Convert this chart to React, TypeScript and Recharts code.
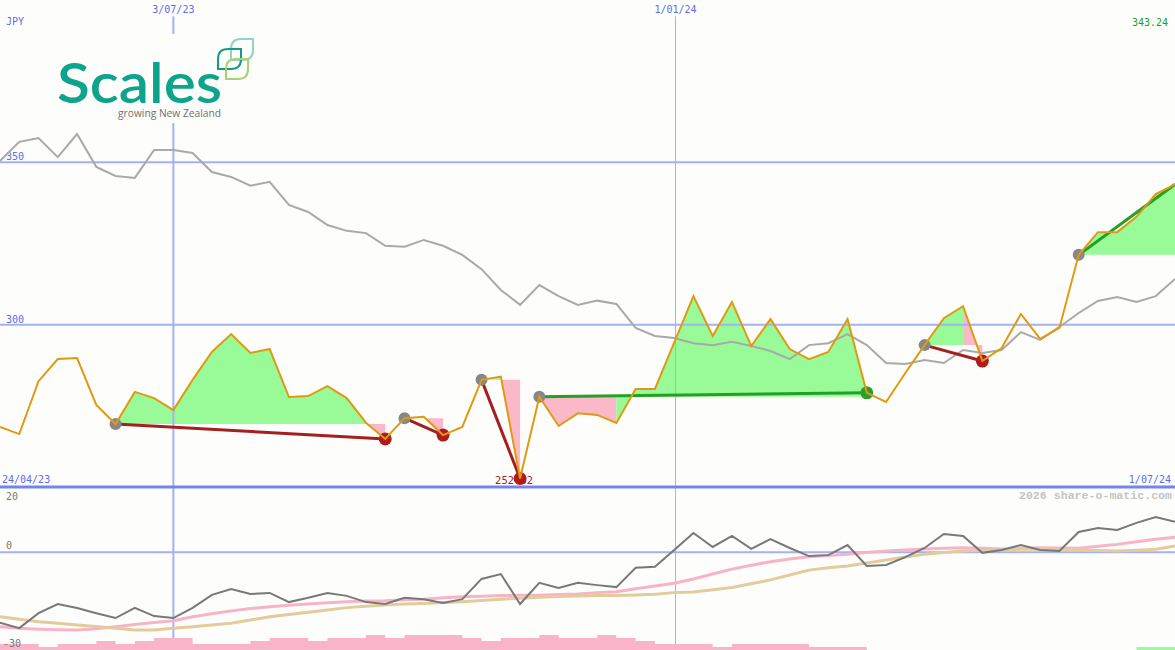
import React from 'react';
import { ComposedChart, Line, Area, XAxis, YAxis, ReferenceLine, ReferenceDot } from 'recharts';

const WIDTH = 1175;
const HEIGHT = 650;
const BG = '#fdfefb';
const BLUE = '#5a6cf2';
const GRID = '#a4b1f3';
const HEAVY = '#7484ee';
const MONO = "'DejaVu Sans Mono', monospace";

// weekly observations (index 0 = first week shown)
const priceJPY = [
  268.5, 266.3, 282.6, 289.4, 289.7, 275.3, 269.4, 279.3, 277.4, 273.7,
  283.0, 291.6, 297.1, 291.3, 292.5, 277.7, 278.0, 281.1, 277.4, 269.8,
  264.8, 271.2, 271.6, 266.0, 268.5, 283.0, 284.0, 252.62, 277.8, 268.8,
  272.7, 272.2, 269.7, 280.2, 280.2, 294.5, 308.8, 296.5, 307.0, 293.4,
  301.7, 292.5, 289.4, 291.6, 301.7, 279.0, 276.2, 285.1, 293.7, 302.0,
  305.7, 288.8, 292.8, 303.3, 295.6, 299.0, 321.5, 328.5, 328.5, 333.2,
  340.2, 343.24,
];

const peerIndex = [
  350.4, 356.3, 357.5, 351.6, 358.7, 348.6, 345.8, 345.2, 353.8, 353.8,
  352.9, 347.0, 345.5, 342.8, 344.0, 336.9, 334.7, 330.7, 328.9, 328.2,
  324.3, 324.0, 326.1, 324.3, 321.5, 317.1, 310.7, 306.1, 312.2, 308.8,
  306.1, 307.4, 306.4, 299.0, 296.5, 295.9, 294.3, 293.7, 294.7, 293.4,
  291.9, 289.4, 293.7, 294.3, 297.1, 293.7, 288.2, 287.9, 289.1, 288.2,
  292.2, 291.3, 292.2, 297.7, 295.3, 299.3, 303.6, 307.3, 308.5, 307.0,
  308.8, 314.1,
];

const relPerformance = [
  -21.6, -23.3, -18.7, -15.9, -17.1, -18.7, -20.2, -17.1, -19.6, -20.2,
  -17.1, -13.1, -11.3, -12.8, -12.5, -15.3, -14.0, -12.5, -13.4, -15.3,
  -15.9, -14.0, -14.4, -15.6, -14.4, -8.2, -6.7, -15.9, -9.4, -11.0,
  -9.4, -10.1, -10.7, -4.8, -4.5, 0.7, 5.9, 1.6, 5.0, 1.0,
  4.0, 1.3, -1.2, -0.9, 2.2, -4.2, -3.9, -1.5, 1.3, 5.6,
  5.0, -0.2, 0.7, 2.2, 0.7, 0.4, 6.2, 7.4, 6.8, 9.0,
  10.8, 9.3,
];

const relAvgFast = [
  -22.9, -23.3, -23.6, -23.8, -23.9, -23.5, -22.9, -22.2, -21.6, -21.0,
  -19.8, -18.9, -18.0, -17.3, -16.7, -16.3, -15.9, -15.5, -15.2, -15.0,
  -14.9, -14.6, -14.4, -14.0, -13.7, -13.5, -13.3, -13.2, -13.2, -13.0,
  -12.8, -12.4, -12.1, -11.2, -10.4, -9.5, -8.2, -6.7, -5.2, -4.0,
  -2.9, -2.1, -1.4, -1.0, -0.6, -0.1, 0.4, 0.7, 1.0, 1.2,
  1.4, 1.2, 1.0, 1.2, 1.4, 1.3, 1.2, 1.8, 2.4, 3.2,
  4.0, 4.6,
];

const relAvgSlow = [
  -19.8, -20.6, -21.3, -21.8, -22.3, -22.8, -23.3, -23.9, -23.9, -23.3,
  -22.9, -22.3, -21.8, -20.8, -19.8, -19.1, -18.4, -17.7, -17.0, -16.6,
  -16.2, -15.9, -15.7, -15.4, -15.2, -14.8, -14.4, -14.1, -13.8, -13.6,
  -13.4, -13.3, -13.3, -13.1, -12.9, -12.4, -12.2, -11.5, -10.8, -9.7,
  -8.5, -7.0, -5.5, -4.8, -4.2, -3.3, -2.4, -1.5, -0.6, -0.1,
  0.4, 0.5, 0.7, 0.9, 1.0, 0.9, 0.7, 0.5, 0.4, 0.6,
  0.9, 1.9,
];

const volumeDown = [
  4, 4, 2, 4, 4, 6, 4, 6, 8, 8,
  4, 4, 4, 6, 8, 8, 6, 8, 8, 10,
  8, 10, 10, 10, 8, 6, 8, 8, 10, 8,
  8, 10, 8, 6, 4, 4, 4, 2, 4, 4,
  4, 4, 2, 2, 2, 0, 0, 0, 0, 0,
  0, 0, 0, 0, 0, 0, 0, 0, 0, 0,
  0, 0,
];

const volumeUp = [
  0, 0, 0, 0, 0, 0, 0, 0, 0, 0,
  0, 0, 0, 0, 0, 0, 0, 0, 0, 0,
  0, 0, 0, 0, 0, 0, 0, 0, 0, 0,
  0, 0, 0, 0, 0, 0, 0, 0, 0, 0,
  0, 0, 0, 0, 0, 0, 0, 0, 0, 0,
  0, 0, 0, 0, 0, 0, 0, 0, 0, 2,
  2, 2,
];

const trendSegments = [
  { start: 6, end: 20, dir: 'down', open: false },
  { start: 21, end: 23, dir: 'down', open: false },
  { start: 25, end: 27, dir: 'down', open: false },
  { start: 28, end: 45, dir: 'up', open: false },
  { start: 48, end: 51, dir: 'down', open: false },
  { start: 56, end: 61, dir: 'up', open: true },
];

const priceGrid = [350, 300];
const dateMarks = [
  { at: 9, label: '3/07/23', width: 2 },
  { at: 35.07, label: '1/01/24', width: 1 },
];
const currency = 'JPY';
const startLabel = '24/04/23';
const endLabel = '1/07/24';

// fill runs: each interval coloured by where its end sits vs the trend start price
type Run = { key: string; up: boolean; from: number; to: number; base: number };
const runs: Run[] = [];
trendSegments.forEach((s) => {
  const base = priceJPY[s.start];
  let cur: Run | null = null;
  for (let i = s.start; i < s.end; i++) {
    const up = priceJPY[i + 1] >= base;
    if (cur && cur.up === up) cur.to = i + 1;
    else {
      cur = { key: `fill${runs.length}`, up, from: i, to: i + 1, base };
      runs.push(cur);
    }
  }
});

const rows = priceJPY.map((p, i) => {
  const row: Record<string, any> = {
    i,
    price: p,
    peer: peerIndex[i],
    rel: relPerformance[i],
    fast: relAvgFast[i],
    slow: relAvgSlow[i],
    volDown: volumeDown[i],
    volUp: volumeUp[i],
  };
  runs.forEach((r) => {
    row[r.key] = i >= r.from && i <= r.to ? [r.base, p] : null;
  });
  return row;
});

const lastIdx = priceJPY.length - 1;
const lowVal = Math.min(...priceJPY);
const lowIdx = priceJPY.indexOf(lowVal);

type EdgeProps = {
  viewBox?: { x: number; y: number; width?: number; height?: number };
  text: string;
  side?: 'start' | 'end' | 'middle';
  dx?: number;
  dy?: number;
  color?: string;
  size?: number;
  weight?: number;
  family?: string;
};

function EdgeText({ viewBox, text, side = 'start', dx = 0, dy = 0, color = BLUE, size = 10, weight = 400, family = MONO }: EdgeProps) {
  if (!viewBox) return null;
  const w = viewBox.width ?? 0;
  const x = side === 'start' ? viewBox.x + dx : side === 'end' ? viewBox.x + w - dx : viewBox.x + w / 2 + dx;
  return (
    <text x={x} y={viewBox.y + dy} fill={color} fontSize={size} fontWeight={weight} fontFamily={family} textAnchor={side}>
      {text}
    </text>
  );
}

function Logo() {
  const leaf = (x: number, y: number, w: number, h: number, r: number) =>
    `M${x + r},${y} L${x + w},${y} L${x + w},${y + h - r} Q${x + w},${y + h} ${x + w - r},${y + h} L${x},${y + h} L${x},${y + r} Q${x},${y} ${x + r},${y} Z`;
  return (
    <svg width={WIDTH} height={HEIGHT} style={{ position: 'absolute', left: 0, top: 0, pointerEvents: 'none' }}>
      <rect x={52} y={34} width={206} height={89} fill={BG} />
      <path d={leaf(231, 39, 22, 21, 10)} fill="none" stroke="#8fd3c9" strokeWidth={2} />
      <path d={leaf(218, 49, 23, 20, 10)} fill="none" stroke="#169a8a" strokeWidth={2} />
      <path d={leaf(226, 59, 22, 20, 10)} fill="none" stroke="#a9d36e" strokeWidth={2} />
      <text x={57} y={103} fontFamily="Lato, 'Open Sans', sans-serif" fontWeight={600} fontSize={55} fill="#0ea38b" textLength={165} lengthAdjust="spacingAndGlyphs">
        Scales
      </text>
      <text x={118} y={117} fontFamily="'Open Sans', sans-serif" fontSize={11.5} fill="#6e6e6e" textLength={103} lengthAdjust="spacingAndGlyphs">
        growing New Zealand
      </text>
    </svg>
  );
}

export default function App() {
  return (
    <div style={{ position: 'absolute', left: 0, top: 0, width: WIDTH, height: HEIGHT, background: BG, overflow: 'hidden' }}>
      <ComposedChart width={WIDTH} height={HEIGHT} data={rows} margin={{ top: 0, right: 0, bottom: 0, left: 0 }}>
        <XAxis type="number" dataKey="i" domain={[0, 61]} hide allowDataOverflow />
        <YAxis yAxisId="p" type="number" domain={[199.795, 400]} hide allowDataOverflow />
        <YAxis yAxisId="o" type="number" domain={[-30, 169.39]} hide allowDataOverflow />
        <YAxis yAxisId="v" type="number" domain={[0, 433.33]} hide allowDataOverflow />

        {runs.map((r, k) => (
          <Area
            key={r.key}
            dataKey={r.key}
            yAxisId="p"
            type="linear"
            stroke="none"
            fill={r.up ? '#98fb98' : '#fbb8c9'}
            fillOpacity={1}
            dot={false}
            activeDot={false}
            isAnimationActive={false}
            zIndex={100 + k}
          />
        ))}

        {priceGrid.map((g) => (
          <ReferenceLine
            key={g}
            yAxisId="p"
            y={g}
            stroke={GRID}
            strokeWidth={2}
            ifOverflow="visible"
            zIndex={150}
            label={<EdgeText text={String(g)} dx={6} dy={-2} />}
          />
        ))}
        <ReferenceLine yAxisId="o" y={0} stroke={GRID} strokeWidth={2} ifOverflow="visible" zIndex={150}
          label={<EdgeText text="0" dx={6} dy={-3} color="#787878" />} />
        {dateMarks.map((d) => (
          <ReferenceLine
            key={d.label}
            yAxisId="p"
            segment={[{ x: d.at, y: 395 }, { x: d.at, y: 199.795 }]}
            stroke={GRID}
            strokeWidth={d.width}
            ifOverflow="visible"
            zIndex={151}
            label={<EdgeText text={d.label} side="middle" dy={-3} />}
          />
        ))}

        <Area dataKey="volDown" yAxisId="v" type="stepAfter" stroke="none" fill="#f9b4c8" fillOpacity={1} dot={false} activeDot={false} isAnimationActive={false} zIndex={160} />
        <Area dataKey="volUp" yAxisId="v" type="stepAfter" stroke="none" fill="#98fb98" fillOpacity={1} dot={false} activeDot={false} isAnimationActive={false} zIndex={161} />

        <ReferenceLine yAxisId="p" y={250} stroke={HEAVY} strokeWidth={3} ifOverflow="visible" zIndex={170}
          label={<EdgeText text={startLabel} dx={2} dy={-4} />} />
        <ReferenceLine yAxisId="p" y={250} stroke="none" ifOverflow="visible" zIndex={170}
          label={<EdgeText text={endLabel} side="end" dx={4} dy={-4} />} />
        <ReferenceLine yAxisId="p" y={400} stroke="none" ifOverflow="visible" zIndex={170}
          label={<EdgeText text={currency} dx={6} dy={25} />} />
        <ReferenceLine yAxisId="p" y={400} stroke="none" ifOverflow="visible" zIndex={170}
          label={<EdgeText text={priceJPY[lastIdx].toFixed(2)} side="end" dx={7} dy={26} color="#22a022" />} />
        <ReferenceLine yAxisId="o" y={20} stroke="none" ifOverflow="visible" zIndex={170}
          label={<EdgeText text="20" dx={6} dy={13} color="#787878" />} />
        <ReferenceLine yAxisId="o" y={20} stroke="none" ifOverflow="visible" zIndex={170}
          label={<EdgeText text="2026 share-o-matic.com" side="end" dx={3} dy={12} color="#c4c4c4" size={11.6} weight={700} family="'Liberation Mono', 'DejaVu Sans Mono', monospace" />} />
        <ReferenceLine yAxisId="o" y={-30} stroke="none" ifOverflow="visible" zIndex={170}
          label={<EdgeText text="-30" dx={3} dy={-3} color="#787878" />} />

        <Line dataKey="peer" yAxisId="p" type="linear" stroke="#a9a9a9" strokeWidth={2} dot={false} activeDot={false} isAnimationActive={false} zIndex={400} />
        <Line dataKey="fast" yAxisId="o" type="linear" stroke="#f8b4c6" strokeWidth={3} dot={false} activeDot={false} isAnimationActive={false} zIndex={401} />
        <Line dataKey="slow" yAxisId="o" type="linear" stroke="#e3cb9b" strokeWidth={3} dot={false} activeDot={false} isAnimationActive={false} zIndex={402} />
        <Line dataKey="rel" yAxisId="o" type="linear" stroke="#787878" strokeWidth={2} dot={false} activeDot={false} isAnimationActive={false} zIndex={403} />

        {trendSegments.map((s) => (
          <ReferenceLine
            key={`t${s.start}`}
            yAxisId="p"
            segment={[{ x: s.start, y: priceJPY[s.start] }, { x: s.end, y: priceJPY[s.end] }]}
            stroke={s.dir === 'up' ? '#25a025' : '#a32020'}
            strokeWidth={3}
            ifOverflow="visible"
            zIndex={410}
          />
        ))}

        <ReferenceDot
          yAxisId="p"
          x={lowIdx}
          y={lowVal}
          r={0}
          ifOverflow="visible"
          zIndex={415}
          shape={(props: any) => (
            <text x={props.cx - 6} y={props.cy + 5.5} fill="#a82020" fontSize={10.5} fontFamily={MONO} textAnchor="middle">
              {lowVal.toFixed(2)}
            </text>
          )}
        />

        {trendSegments.map((s) => (
          <ReferenceDot key={`ds${s.start}`} yAxisId="p" x={s.start} y={priceJPY[s.start]} r={6} fill="#878787" stroke="none" ifOverflow="visible" zIndex={420} />
        ))}
        {trendSegments.filter((s) => !s.open).map((s) => (
          <ReferenceDot key={`de${s.end}`} yAxisId="p" x={s.end} y={priceJPY[s.end]} r={6.5} fill={s.dir === 'up' ? '#2aa02a' : '#b01c1c'} stroke="none" ifOverflow="visible" zIndex={421} />
        ))}

        <Line dataKey="price" yAxisId="p" type="linear" stroke="#e09a12" strokeWidth={2} dot={false} activeDot={false} isAnimationActive={false} zIndex={430} />
      </ComposedChart>
      <Logo />
    </div>
  );
}
